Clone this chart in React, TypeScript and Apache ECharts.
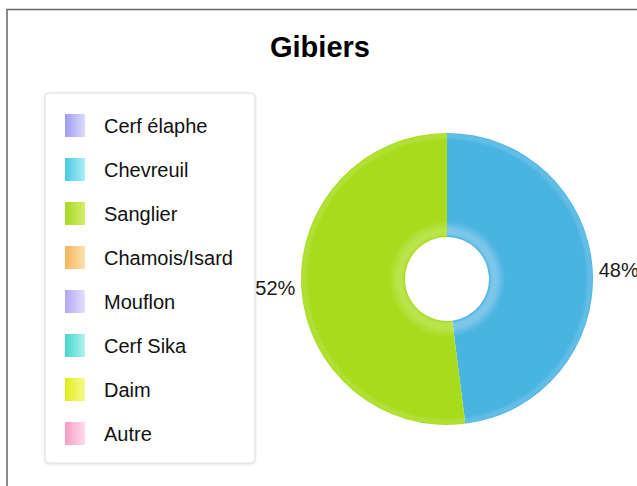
import React, { useEffect, useRef } from "react";
import * as echarts from "echarts";

const TITLE = "Gibiers";
const categories = [
  "Cerf élaphe",
  "Chevreuil",
  "Sanglier",
  "Chamois/Isard",
  "Mouflon",
  "Cerf Sika",
  "Daim",
  "Autre",
];
const values = [0, 48, 52, 0, 0, 0, 0, 0];
const legendColors = [
  ["#9c9cf6", "#dcdcfb"],
  ["#48c8e4", "#b0ecf6"],
  ["#a6d826", "#d4ee6a"],
  ["#f8b45c", "#fde2ae"],
  ["#b2a6f6", "#e4e0fb"],
  ["#44d6cc", "#b0f2ec"],
  ["#dfec1c", "#f4fa8c"],
  ["#f89cc6", "#fcdcea"],
];
// slice colours: [base, light inner glow, light rim]
const sliceColors = [
  ["#9c9cf6", "#b0b0f8", "#a8a8f7"],
  ["#4ab4e1", "#7cc6ea", "#62bde6"],
  ["#a7dc1d", "#b9e44c", "#b0e035"],
  ["#f8b45c", "#fac688", "#f9bd70"],
  ["#b2a6f6", "#c4baf8", "#bab0f7"],
  ["#44d6cc", "#76e0da", "#5cdad2"],
  ["#dfec1c", "#e8f258", "#e4ef3a"],
  ["#f89cc6", "#fab8d6", "#f9aace"],
];

const CX = 447;
const CY = 279;
const R_IN = 42;
const R_OUT = 146;

export default function App() {
  const ref = useRef<HTMLDivElement>(null);
  useEffect(() => {
    if (!ref.current) return;
    const chart = echarts.init(ref.current, null, { renderer: "svg" });
    const fi = R_IN / R_OUT;
    const data = categories.map((name, i) => {
      const [base, glow, rim] = sliceColors[i];
      return {
        name,
        value: values[i],
        label: { show: values[i] > 0 },
        labelLine: { show: false },
        itemStyle: {
          color: {
            type: "radial",
            x: CX,
            y: CY,
            r: R_OUT,
            global: true,
            colorStops: [
              { offset: fi, color: base },
              { offset: fi + 0.02, color: glow },
              { offset: fi + 0.05, color: glow },
              { offset: fi + 0.11, color: base },
              { offset: 0.95, color: base },
              { offset: 0.97, color: rim },
              { offset: 0.99, color: rim },
              { offset: 1, color: base },
            ],
          },
        },
      };
    });
    chart.setOption({
      animation: false,
      backgroundColor: "#ffffff",
      title: {
        text: TITLE,
        left: 270,
        top: 32,
        padding: 0,
        textStyle: {
          fontFamily: "Liberation Sans, Arial, sans-serif",
          fontSize: 29,
          fontWeight: "bold",
          color: "#000",
        },
      },
      legend: {
        orient: "vertical",
        left: 45,
        top: 93,
        padding: [21, 22, 18, 20],
        itemWidth: 20,
        itemHeight: 23,
        itemGap: 21,
        icon: "rect",
        selectedMode: false,
        backgroundColor: "#ffffff",
        borderColor: "#dcdcdc",
        borderWidth: 1,
        borderRadius: 4,
        shadowBlur: 3,
        shadowColor: "rgba(0,0,0,0.12)",
        shadowOffsetY: 1,
        textStyle: {
          fontFamily: "Liberation Sans, Arial, sans-serif",
          fontSize: 20,
          color: "#111",
          lineHeight: 23,
          padding: [0, 0, 0, 14],
        },
        data: categories.map((name, i) => ({
          name,
          itemStyle: {
            color: {
              type: "linear",
              x: 0,
              y: 0,
              x2: 1,
              y2: 0,
              colorStops: [
                { offset: 0, color: legendColors[i][0] },
                { offset: 1, color: legendColors[i][1] },
              ],
            },
          },
        })),
      },
      graphic: [
        {
          type: "rect",
          shape: { x: 7, y: 9.5, width: 1000, height: 1000 },
          style: { fill: "none", stroke: "#666", lineWidth: 1.5 },
          silent: true,
        },
      ],
      series: [
        {
          type: "pie",
          center: [CX, CY],
          radius: [R_IN, R_OUT],
          startAngle: 90,
          clockwise: true,
          avoidLabelOverlap: false,
          emphasis: { disabled: true },
          itemStyle: { borderWidth: 0 },
          label: {
            position: "outside",
            formatter: (p: any) => `${Math.round(p.percent)}%`,
            fontFamily: "Liberation Sans, Arial, sans-serif",
            fontSize: 20,
            color: "#1a1a1a",
            overflow: "none",
            bleedMargin: 0,
            distanceToLabelLine: 3,
          },
          labelLine: { show: false, length: 2, length2: 1 },
          data,
        },
      ],
    });
    return () => chart.dispose();
  }, []);
  return (
    <div
      ref={ref}
      style={{ position: "fixed", left: 0, top: 0, width: 637, height: 486 }}
    />
  );
}
